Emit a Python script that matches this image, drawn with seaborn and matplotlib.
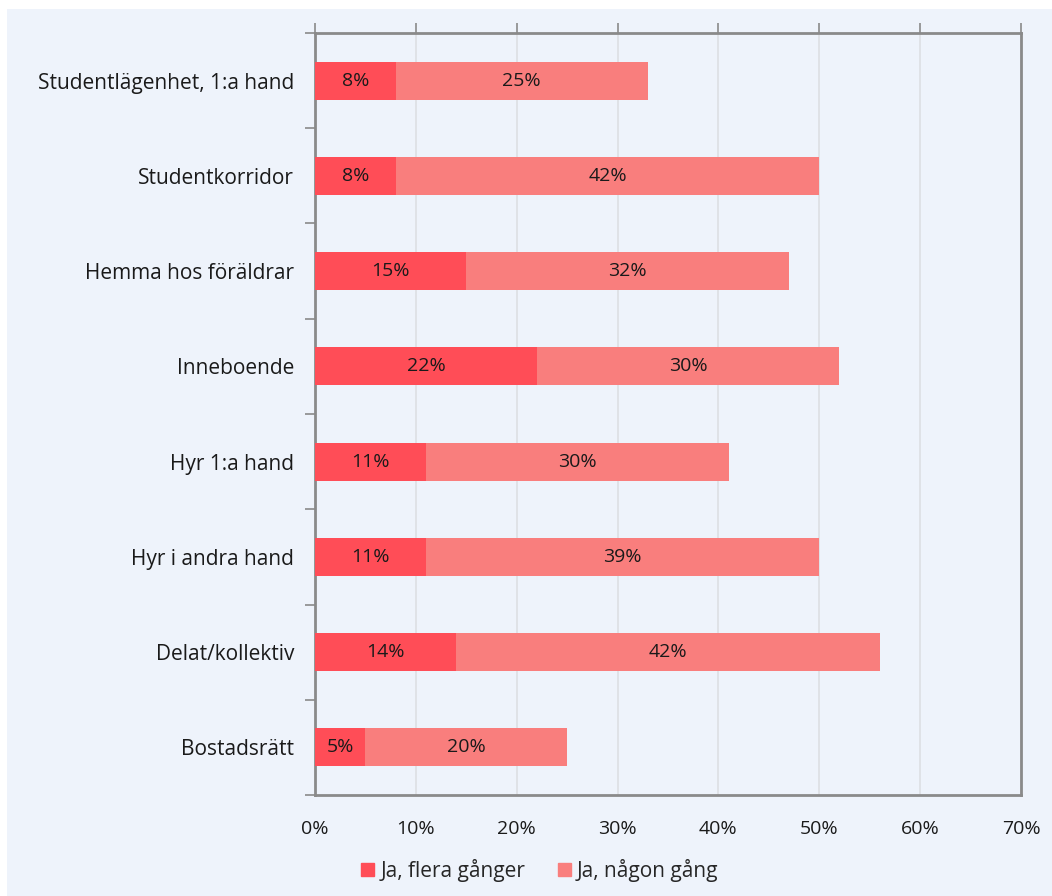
import matplotlib
matplotlib.use("Agg")
import matplotlib.pyplot as plt
import seaborn as sns
import pandas as pd
import numpy as np
from matplotlib.patches import Rectangle
from matplotlib.ticker import FixedLocator

categories = ["Studentlägenhet, 1:a hand", "Studentkorridor", "Hemma hos föräldrar",
              "Inneboende", "Hyr 1:a hand", "Hyr i andra hand", "Delat/kollektiv", "Bostadsrätt"]
flera = [8, 8, 15, 22, 11, 11, 14, 5]
nagon = [25, 42, 32, 30, 30, 39, 42, 20]
series_names = ["Ja, flera gånger", "Ja, någon gång"]
xticks = [0, 10, 20, 30, 40, 50, 60, 70]

c_dark = "#FF4D57"
c_light = "#F97E7D"
bg = "#EEF3FB"
spine_c = "#8A8A8A"
txt = "#1a1a1a"

sns.set_theme(style="white")
plt.rcParams["font.family"] = ["Open Sans", "DejaVu Sans"]

fig = plt.figure(figsize=(10.52, 8.96), dpi=100)
fig.patch.set_facecolor("white")
fig.patches.append(Rectangle((7/1052, 0), 1, 1 - 9/896, transform=fig.transFigure,
                             facecolor=bg, edgecolor="none", zorder=-10))

ax = fig.add_axes([315/1052, 1 - 795/896, (1021-315)/1052, (795-33)/896])
ax.set_facecolor(bg)
ax.set_zorder(5)

df = pd.DataFrame({"cat": categories, "flera": flera, "total": np.array(flera) + np.array(nagon)})
sns.barplot(data=df, y="cat", x="total", color=c_light, width=0.4, ax=ax, zorder=2,
            saturation=1, linewidth=0)
sns.barplot(data=df, y="cat", x="flera", color=c_dark, width=0.4, ax=ax, zorder=3,
            saturation=1, linewidth=0)

for i, (f, n) in enumerate(zip(flera, nagon)):
    ax.text(f / 2, i, f"{f}%", ha="center", va="center", fontsize=14, color=txt, zorder=5)
    ax.text(f + n / 2, i, f"{n}%", ha="center", va="center", fontsize=14, color=txt, zorder=5)

ax.set_xlim(0, 70)
ax.set_ylim(len(categories) - 0.5, -0.5)
ax.set_xticks(xticks)
ax.set_xticklabels([f"{t}%" for t in xticks], fontsize=14, color=txt)
ax.xaxis.grid(True, color="#DCDFE4", linewidth=1.2, zorder=0)
ax.set_axisbelow(True)
ax.tick_params(axis="x", which="major", bottom=False, top=True, labelbottom=True,
               direction="out", length=7, width=1.2, color=spine_c, pad=11)
ax.set_yticks(range(len(categories)))
ax.set_yticklabels(categories, fontsize=15, color=txt)
ax.yaxis.set_minor_locator(FixedLocator(np.arange(-0.5, len(categories), 1)))
ax.tick_params(axis="y", which="major", left=False, length=0, pad=15)
ax.tick_params(axis="y", which="minor", left=True, direction="out", length=7, width=1.2, color=spine_c)
ax.set_xlabel("")
ax.set_ylabel("")
for s in ax.spines.values():
    s.set_visible(True)
    s.set_color(spine_c)
    s.set_linewidth(2)

handles = [Rectangle((0, 0), 1, 1, color=c_dark), Rectangle((0, 0), 1, 1, color=c_light)]
fig.legend(handles, series_names, loc="center", bbox_to_anchor=(540/1052, 1 - 870/896),
           ncol=2, frameon=False, fontsize=15, handlelength=0.6, handleheight=0.6,
           handletextpad=0.3, columnspacing=1.6)

fig.savefig("out.png", dpi=100, facecolor="white")
